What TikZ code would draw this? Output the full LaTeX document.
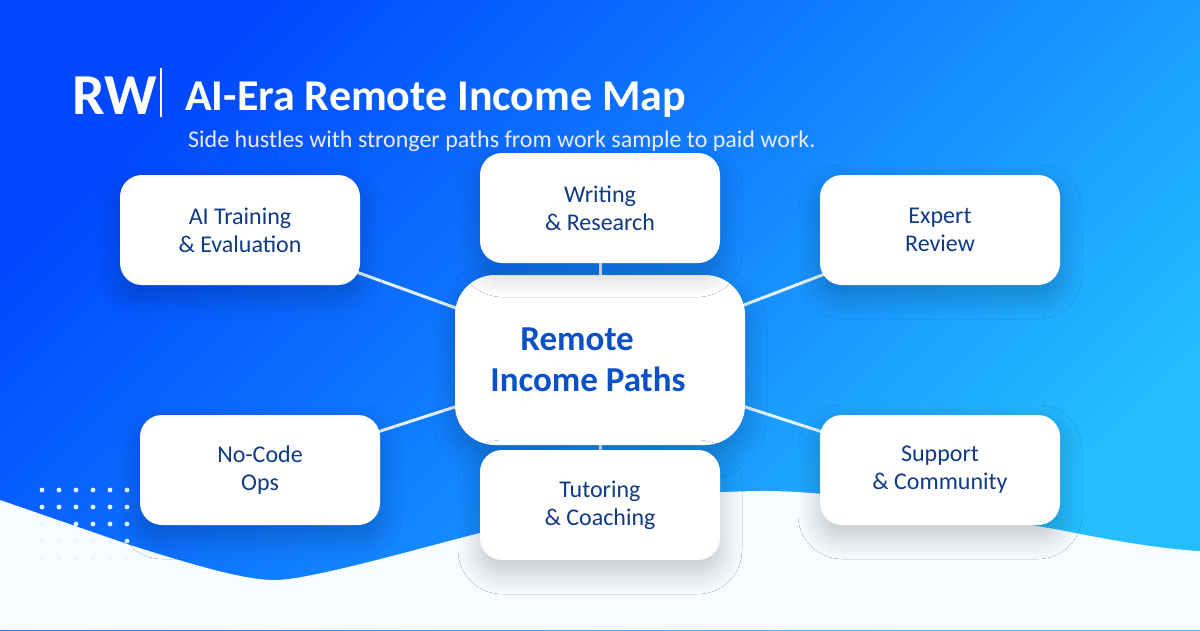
\documentclass[tikz,border=0pt]{standalone}
\usepackage{fontspec}
\setmainfont{Carlito}
\usetikzlibrary{positioning, backgrounds, shadows.blur}
\definecolor{cSkyStart}{RGB}{0, 72, 255}
\definecolor{cSkyEnd}{RGB}{36, 190, 255}
\definecolor{cWave}{RGB}{246, 252, 255}
\definecolor{cDot}{RGB}{232, 247, 255}
\definecolor{cLink}{RGB}{226, 243, 255}
\definecolor{cCardText}{RGB}{15, 58, 133}
\definecolor{cHubText}{RGB}{10, 80, 200}
\definecolor{cShadow}{RGB}{10, 40, 90}
\tikzset{
    % shared look of the white boxes
    block/.style={
        rectangle, fill=white, align=center, inner sep=0pt, outer sep=0pt,
        blur shadow={shadow xshift=0pt, shadow yshift=-12pt,
            shadow blur radius=22pt, shadow blur steps=18, shadow opacity=22}
    },
    cardBox/.style={block, rounded corners=22pt, minimum width=240pt, minimum height=110pt,
        text=cCardText, font=\fontsize{24}{28}\selectfont},
    hubBox/.style={block, rounded corners=40pt, minimum width=290pt, minimum height=170pt,
        text=cHubText, font=\fontsize{35}{41}\selectfont\bfseries, align=left},
    conn/.style={draw=cLink, line width=3pt},
    heading/.style={text=white, anchor=base west, inner sep=0pt}
}

\begin{document}
\begin{tikzpicture}[x=1pt, y=-1pt]
	\useasboundingbox (0,0) rectangle (1200,630);

	% centre
	\node [hubBox] (hub) at (600,360) {\hspace*{30pt}Remote\\Income Paths\hspace*{24pt}};

	% upper row
	\node [cardBox] (training) at (240,230) {AI Training\\\& Evaluation};
	\node [cardBox, above=12pt of hub] (writing) {Writing\\\& Research};
	\node [cardBox] (expert) at (940,230) {Expert\\Review};

	% lower row
	\node [cardBox] (nocode) at (260,470) {No-Code\\Ops};
	\node [cardBox, below=5pt of hub] (tutoring) {Tutoring\\\& Coaching};
	\node [cardBox] (support) at (940,470) {Support\\\& Community};

	% heading
	\node [heading, font=\fontsize{58}{58}\selectfont\bfseries] (logo) at (72,114) {RW};
	\coordinate (barTop) at (161,68);
	\coordinate (barEnd) at (161,117);
	\draw [white, line width=1.5pt] (barTop) -- (barEnd);
	\node [heading, font=\fontsize{44}{44}\selectfont\bfseries] (title) at (185,110) {AI-Era Remote Income Map};
	\node [heading, font=\fontsize{24}{24}\selectfont, text=white!92!blue] (subtitle) at (188,147)
		{Side hustles with stronger paths from work sample to paid work.};

	\begin{pgfonlayer}{background}
		% backdrop
		\shade [top color=cSkyStart, bottom color=cSkyEnd, shading angle=45] (0,0) rectangle (1200,630);
		\fill [cWave] (0,500) -- (130,545) .. controls (200,567) and (245,580) .. (275,580)
			.. controls (310,580) and (420,548) .. (480,533)
			.. controls (560,510) and (660,492) .. (760,491)
			.. controls (850,490) and (1000,520) .. (1060,530)
			.. controls (1110,540) and (1160,549) .. (1200,551)
			-- (1200,630) -- (0,630) -- cycle;
		\foreach \row in {0,...,4}
			\foreach \col in {0,...,5}
				\fill [cDot] (42+17*\col, 490+17*\row) circle (2.4pt);

		% spokes
		\foreach \card in {training, writing, expert, nocode, tutoring, support}
			\draw [conn] (hub.center) -- (\card.center);
	\end{pgfonlayer}
\end{tikzpicture}
\end{document}
